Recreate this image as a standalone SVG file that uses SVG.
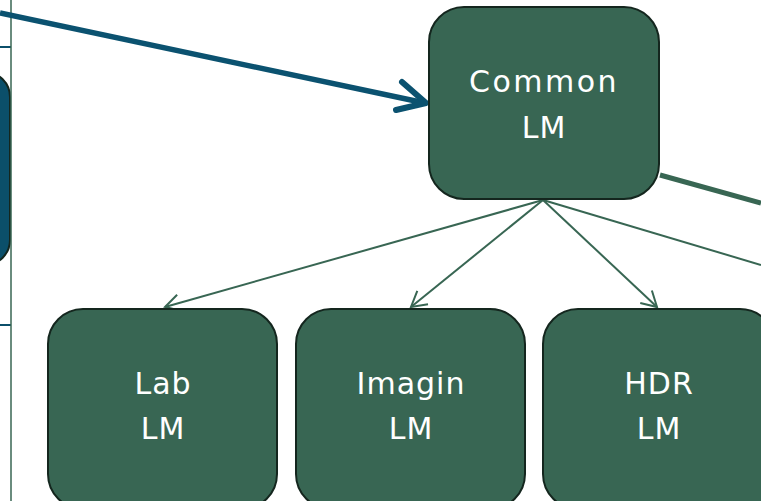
<svg xmlns="http://www.w3.org/2000/svg" width="761" height="501" viewBox="0 0 761 501">
<defs>
<style>
.node{fill:#386653;stroke:#14261e;stroke-width:2}
.lbl{fill:#ffffff;font-family:"DejaVu Sans",sans-serif;font-size:30px;text-anchor:middle;letter-spacing:1px}
.thin{stroke:#386653;stroke-width:2;fill:none}
</style>
<marker id="chev" markerUnits="userSpaceOnUse" markerWidth="20" markerHeight="20" viewBox="-18 -10 20 20" refX="0" refY="0" orient="auto">
<path d="M-15,-8.5 L0,0 L-15,8.5" fill="none" stroke="#386653" stroke-width="2"/>
</marker>
</defs>
<rect width="761" height="501" fill="#ffffff"/>
<g id="left-node">
<rect x="-40" y="72" width="50" height="193" rx="25" fill="#0b4f6a" stroke="#14261e" stroke-width="2"/>
</g>
<g id="connectors">
<line x1="0" y1="47" x2="11" y2="47" stroke="#0b4f6a" stroke-width="2"/>
<line x1="0" y1="325" x2="11" y2="325" stroke="#0b4f6a" stroke-width="2"/>
<line x1="11" y1="0" x2="11" y2="501" stroke="#386653" stroke-width="1.5"/>
<line x1="0" y1="13" x2="425" y2="103" stroke="#0b5270" stroke-width="5.5"/>
<polyline points="402,82 426,103 396,110" fill="none" stroke="#0b5270" stroke-width="6" stroke-linecap="round" stroke-linejoin="round"/>
<line x1="660" y1="175" x2="761" y2="203" stroke="#386653" stroke-width="5"/>
<line class="thin" x1="543" y1="200" x2="165" y2="307" marker-end="url(#chev)"/>
<line class="thin" x1="543" y1="200" x2="411" y2="307" marker-end="url(#chev)"/>
<line class="thin" x1="543" y1="200" x2="657" y2="307" marker-end="url(#chev)"/>
<line class="thin" x1="543" y1="200" x2="761" y2="265"/>
</g>
<g id="common-lm">
<rect class="node" x="429" y="7" width="230" height="192" rx="35"/>
<text class="lbl" x="544" y="92" style="letter-spacing:2.5px">Common</text>
<text class="lbl" x="544" y="138">LM</text>
</g>
<g id="lab-lm">
<rect class="node" x="48" y="309" width="229" height="200" rx="35"/>
<text class="lbl" x="163" y="394">Lab</text>
<text class="lbl" x="163" y="439">LM</text>
</g>
<g id="imagin-lm">
<rect class="node" x="296" y="309" width="229" height="200" rx="35"/>
<text class="lbl" x="411" y="394">Imagin</text>
<text class="lbl" x="411" y="439">LM</text>
</g>
<g id="hdr-lm">
<rect class="node" x="543" y="309" width="232" height="200" rx="35"/>
<text class="lbl" x="659" y="394">HDR</text>
<text class="lbl" x="659" y="439">LM</text>
</g>
</svg>
